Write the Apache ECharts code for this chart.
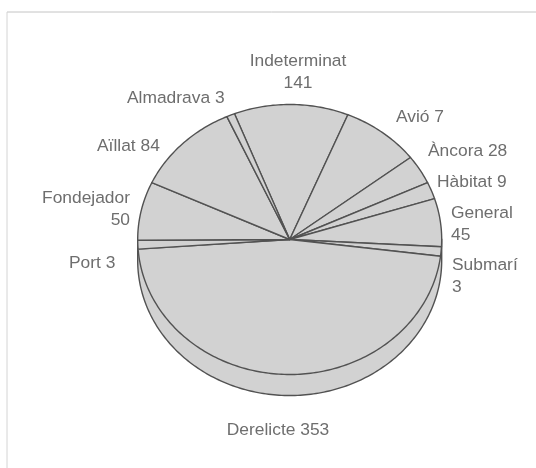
<!DOCTYPE html>
<html>
<head>
<meta charset="utf-8">
<style>
html, body { margin: 0; padding: 0; background: #fff; }
#main { width: 536px; height: 468px; }
</style>
<script src="https://cdn.jsdelivr.net/npm/echarts@6/dist/echarts.min.js"></script>
</head>
<body>
<div id="main"></div>
<script>
var categories = ['Indeterminat', 'Avió', 'Àncora', 'Hàbitat', 'General', 'Submarí', 'Derelicte', 'Port', 'Fondejador', 'Aïllat', 'Almadrava'];
// numbers printed next to each slice
var printedValues = [141, 7, 28, 9, 45, 3, 353, 3, 50, 84, 3];
// slice widths in degrees, they don't follow the printed numbers
var sliceSpans = [43.8, 30.1, 12.5, 7.3, 20.7, 4, 168.8, 3.8, 25.2, 40.7, 3.1];
var firstAngle = -21.3;

var lineColor = '#525252';
var fillColor = '#d2d2d2';
var textColor = '#6e6e6e';
var rimDrop = 0.156; // thickness of the disc, in axis units

// where each label goes: x, y, align, and how the text wraps
var labelSpots = [
    [298, 72.5, 'center', 2],
    [396, 117, 'left', 1],
    [428, 151, 'left', 1],
    [437, 182, 'left', 1],
    [451, 224, 'left', 2],
    [452, 276, 'left', 2],
    [278, 430, 'center', 1],
    [69, 263, 'left', 1],
    [130, 209, 'right', 2],
    [97, 146, 'left', 1],
    [127, 98, 'left', 1]
];

function rad(d) {
    return d * Math.PI / 180;
}

var angles = [];
var running = firstAngle;
sliceSpans.forEach(function (span) {
    angles.push([running, running + span]);
    running += span;
});

function renderSlice(params, api) {
    var from = api.value(0);
    var to = api.value(1);
    var pts = [api.coord([0, 0])];
    for (var a = from; a < to; a += 1) {
        pts.push(api.coord([Math.sin(rad(a)), Math.cos(rad(a))]));
    }
    pts.push(api.coord([Math.sin(rad(to)), Math.cos(rad(to))]));
    return {
        type: 'polygon',
        shape: { points: pts },
        style: { fill: fillColor, stroke: lineColor, lineWidth: 1.4, lineJoin: 'round' }
    };
}

function renderRim(params, api) {
    // sides run straight up to the middle of the top face so there's no notch
    var pts = [api.coord([1, 0])];
    for (var a = 90; a <= 270; a += 1) {
        pts.push(api.coord([Math.sin(rad(a)), Math.cos(rad(a)) - api.value(0)]));
    }
    pts.push(api.coord([-1, 0]));
    return {
        type: 'polygon',
        shape: { points: pts },
        style: { fill: fillColor, stroke: lineColor, lineWidth: 1.4 }
    };
}

var labels = categories.map(function (name, i) {
    var spot = labelSpots[i];
    var sep = spot[3] === 2 ? '\n' : ' ';
    return {
        type: 'text',
        x: spot[0],
        y: spot[1],
        style: {
            text: name + sep + printedValues[i],
            fill: textColor,
            font: '17.4px "Liberation Sans", Arial, sans-serif',
            lineHeight: 22,
            align: spot[2],
            verticalAlign: 'middle'
        }
    };
});

var frame = [
    { type: 'line', shape: { x1: 7, y1: 12, x2: 536, y2: 12 }, style: { stroke: '#c4c4c4', lineWidth: 1 } },
    { type: 'line', shape: { x1: 7, y1: 12, x2: 7, y2: 468 }, style: { stroke: '#d4d4d4', lineWidth: 1 } }
];

var myChart = echarts.init(document.getElementById('main'), null, { renderer: 'canvas' });
var option = {
    animation: false,
    backgroundColor: '#ffffff',
    grid: { left: 137.7, top: 104.5, width: 304, height: 270 },
    xAxis: { type: 'value', min: -1, max: 1, show: false },
    yAxis: { type: 'value', min: -1, max: 1, show: false },
    graphic: frame.concat(labels),
    series: [
        {
            type: 'custom',
            coordinateSystem: 'cartesian2d',
            renderItem: renderRim,
            encode: { x: 0, y: 0 },
            data: [[rimDrop]],
            z: 1
        },
        {
            type: 'custom',
            coordinateSystem: 'cartesian2d',
            renderItem: renderSlice,
            encode: { x: 0, y: 1 },
            data: angles,
            z: 2
        }
    ]
};
myChart.setOption(option);
</script>
</body>
</html>
